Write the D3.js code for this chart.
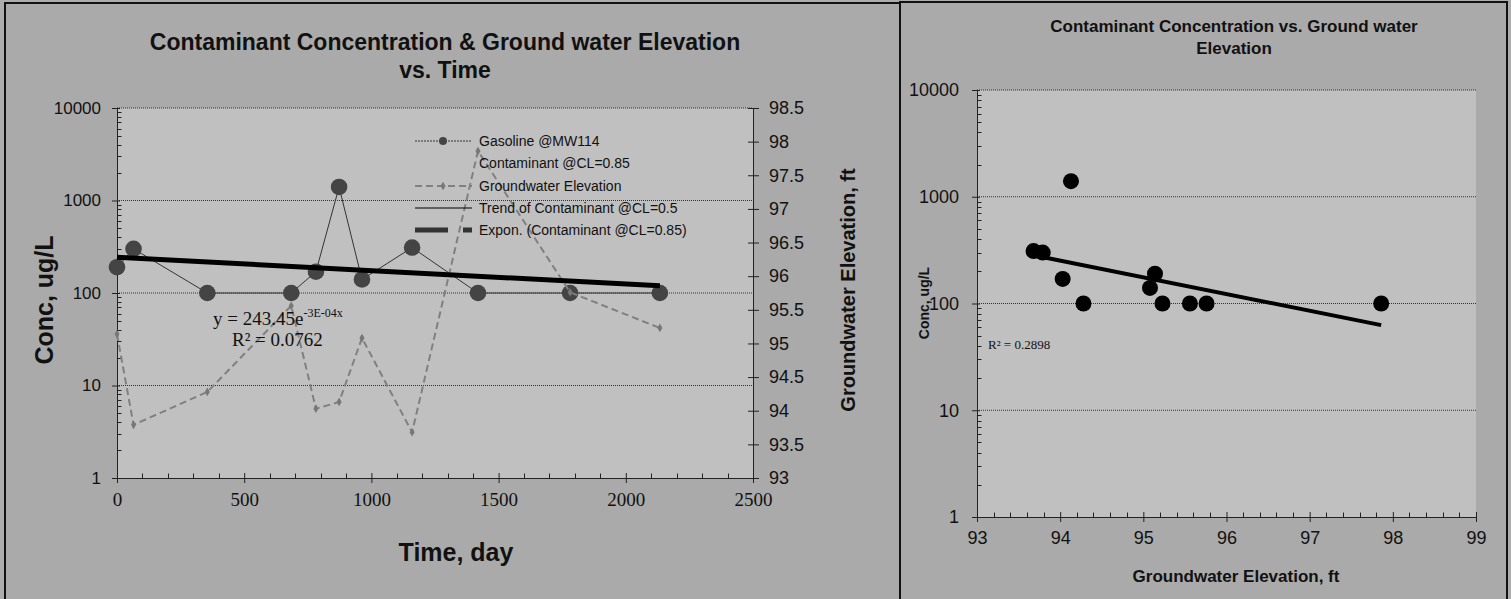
<!DOCTYPE html>
<html>
<head>
<meta charset="utf-8">
<script src="https://cdn.jsdelivr.net/npm/d3@7"></script>
<style>
  body { margin: 0; background: #adadad; }
  svg { display: block; }
  .sans { font-family: "Liberation Sans", Arial, sans-serif; }
  .serif { font-family: "Liberation Serif", "Times New Roman", serif; }
</style>
</head>
<body>
<svg id="chart" width="1511" height="599"></svg>
<script>
// monitoring data, MW114
var days = [0, 65, 355, 685, 782, 873, 963, 1160, 1419, 1781, 2134];
var conc = [190, 300, 100, 100, 170, 1400, 140, 310, 100, 100, 100];
var elev = [95.14, 93.79, 94.28, 95.56, 94.03, 94.13, 95.08, 93.68, 97.86, 95.76, 95.23];

var concTicks = [1, 10, 100, 1000, 10000];
var timeTicks = [0, 500, 1000, 1500, 2000, 2500];
var elevTicks = [93, 93.5, 94, 94.5, 95, 95.5, 96, 96.5, 97, 97.5, 98, 98.5];
var elevXTicks = [93, 94, 95, 96, 97, 98, 99];

var legendLabels = ['Gasoline @MW114', 'Contaminant @CL=0.85', 'Groundwater Elevation',
    'Trend of Contaminant @CL=0.5', 'Expon. (Contaminant @CL=0.85)'];

(function () {
    var svg = d3.select("#chart");

    // least squares fit of ln(y) on x, like excel's exponential trendline
    function expFit(xs, ys) {
        var ly = ys.map(function (v) { return Math.log(v); });
        var mx = d3.mean(xs), my = d3.mean(ly);
        var sxy = 0, sxx = 0;
        for (var i = 0; i < xs.length; i++) {
            sxy += (xs[i] - mx) * (ly[i] - my);
            sxx += (xs[i] - mx) * (xs[i] - mx);
        }
        var b = sxy / sxx;
        var a = my - b * mx;
        return function (x) { return Math.exp(a + b * x); };
    }

    function minorLog(lo, hi) {
        var out = [];
        for (var p = lo; p < hi; p *= 10) {
            for (var k = 2; k < 10; k++) out.push(p * k);
        }
        return out;
    }

    // small inside ticks, vertical axis at x0 or horizontal axis at y0
    function minorY(scale, vals, x0) {
        svg.append("g").selectAll("line").data(vals).enter().append("line")
            .attr("x1", x0).attr("x2", x0 + 4)
            .attr("y1", function (d) { return Math.round(scale(d)) + 0.5; })
            .attr("y2", function (d) { return Math.round(scale(d)) + 0.5; })
            .attr("stroke", "#222").attr("stroke-width", 1);
    }
    function minorX(scale, vals, y0) {
        svg.append("g").selectAll("line").data(vals).enter().append("line")
            .attr("y1", y0).attr("y2", y0 - 5)
            .attr("x1", function (d) { return Math.round(scale(d)) + 0.5; })
            .attr("x2", function (d) { return Math.round(scale(d)) + 0.5; })
            .attr("stroke", "#222").attr("stroke-width", 1);
    }

    // panels
    svg.append("rect").attr("x", 5).attr("y", 3).attr("width", 895).attr("height", 610)
        .attr("fill", "#aaaaaa").attr("stroke", "#111").attr("stroke-width", 2);
    svg.append("rect").attr("x", 900).attr("y", 2).attr("width", 607).attr("height", 610)
        .attr("fill", "#aaaaaa").attr("stroke", "#111").attr("stroke-width", 2);

    leftChart();
    rightChart();

    function leftChart() {
        var x = d3.scaleLinear().domain([0, 2500]).range([117, 753]);
        var y = d3.scaleLog().domain([1, 10000]).range([478, 108]);
        var y2 = d3.scaleLinear().domain([93, 98.5]).range([478, 108]);

        svg.append("rect").attr("x", 117).attr("y", 108).attr("width", 636).attr("height", 370)
            .attr("fill", "#c0c0c0");

        // gridlines
        svg.selectAll(".gridL").data(concTicks.slice(1)).enter().append("line")
            .attr("x1", 117).attr("x2", 753)
            .attr("y1", function (d) { return y(d); })
            .attr("y2", function (d) { return y(d); })
            .attr("stroke", "#333").attr("stroke-width", 1).attr("stroke-dasharray", "1,1");

        // left log axis
        var gy = svg.append("g").attr("class", "sans").attr("transform", "translate(117,0)")
            .call(d3.axisLeft(y).tickValues(concTicks).tickFormat(d3.format("d")).tickSize(5).tickPadding(11));
        gy.selectAll(".tick line").attr("x2", -5).attr("x1", 3);
        minorY(y, minorLog(1, 10000), 117.5);

        // bottom axis
        var gx = svg.append("g").attr("class", "serif").attr("transform", "translate(0,478)")
            .call(d3.axisBottom(x).tickValues(timeTicks).tickFormat(d3.format("d")).tickSize(5).tickPadding(10));
        gx.selectAll(".tick line").attr("y1", -5).attr("y2", 5);
        minorX(x, d3.range(100, 2500, 100).filter(function (d) { return d % 500; }), 478.5);

        // right axis
        var gy2 = svg.append("g").attr("class", "sans").attr("transform", "translate(753,0)")
            .call(d3.axisRight(y2).tickValues(elevTicks).tickFormat(d3.format("")).tickSize(6).tickPadding(10));
        gy2.selectAll(".tick line").attr("x1", -5).attr("x2", 6);

        [gy, gx, gy2].forEach(function (g) {
            g.selectAll("text").attr("fill", "#111");
            g.selectAll("line, path").attr("stroke", "#222");
        });
        gy.selectAll("text").attr("font-size", 17);
        gy2.selectAll("text").attr("font-size", 18);
        gx.selectAll("text").attr("font-size", 19);

        var pts = days.map(function (d, i) { return { t: d, c: conc[i], e: elev[i] }; });

        // gasoline series
        svg.append("path").datum(pts)
            .attr("d", d3.line().x(function (d) { return x(d.t); }).y(function (d) { return y(d.c); }))
            .attr("fill", "none").attr("stroke", "#333").attr("stroke-width", 1);
        svg.selectAll(".gas").data(pts).enter().append("circle")
            .attr("cx", function (d) { return x(d.t); })
            .attr("cy", function (d) { return y(d.c); })
            .attr("r", 8.3).attr("fill", "#444");

        // groundwater elevation
        svg.append("path").datum(pts)
            .attr("d", d3.line().x(function (d) { return x(d.t); }).y(function (d) { return y2(d.e); }))
            .attr("fill", "none").attr("stroke", "#808080").attr("stroke-width", 2)
            .attr("stroke-dasharray", "7,4");
        svg.selectAll(".gw").data(pts).enter().append("path")
            .attr("d", d3.symbol().type(d3.symbolDiamond).size(22))
            .attr("transform", function (d) { return "translate(" + x(d.t) + "," + y2(d.e) + ")"; })
            .attr("fill", "#777");

        // trend line
        var f = expFit(days, conc);
        var tx = d3.extent(days);
        svg.append("line")
            .attr("x1", x(tx[0])).attr("y1", y(f(tx[0])))
            .attr("x2", x(tx[1])).attr("y2", y(f(tx[1])))
            .attr("stroke", "#000").attr("stroke-width", 5);

        // equation
        var eq = svg.append("text").attr("class", "serif").attr("x", 213).attr("y", 325)
            .attr("font-size", 19).attr("fill", "#111");
        eq.append("tspan").text("y = 243.45e");
        eq.append("tspan").attr("dy", -8).attr("font-size", 12).text("-3E-04x");
        svg.append("text").attr("class", "serif").attr("x", 232).attr("y", 346)
            .attr("font-size", 19).attr("fill", "#111").text("R² = 0.0762");

        // legend
        var rows = [141, 163, 186, 208, 230];
        var lg = svg.append("g").attr("class", "sans");
        lg.selectAll("text").data(legendLabels).enter().append("text")
            .attr("x", 479).attr("y", function (d, i) { return rows[i]; })
            .attr("dy", "0.35em").attr("font-size", 14).attr("fill", "#111")
            .text(function (d) { return d; });
        lg.append("line").attr("x1", 415).attr("x2", 472).attr("y1", rows[0]).attr("y2", rows[0])
            .attr("stroke", "#333").attr("stroke-dasharray", "2,1");
        lg.append("circle").attr("cx", 443).attr("cy", rows[0]).attr("r", 4).attr("fill", "#444");
        lg.append("line").attr("x1", 415).attr("x2", 472).attr("y1", rows[2]).attr("y2", rows[2])
            .attr("stroke", "#808080").attr("stroke-width", 2).attr("stroke-dasharray", "7,4");
        lg.append("path").attr("d", d3.symbol().type(d3.symbolDiamond).size(22))
            .attr("transform", "translate(443," + rows[2] + ")").attr("fill", "#777");
        lg.append("line").attr("x1", 415).attr("x2", 472).attr("y1", rows[3]).attr("y2", rows[3])
            .attr("stroke", "#000").attr("stroke-width", 1);
        lg.append("line").attr("x1", 415).attr("x2", 472).attr("y1", rows[4]).attr("y2", rows[4])
            .attr("stroke", "#333").attr("stroke-width", 5).attr("stroke-dasharray", "33,15");

        // titles
        var t = svg.append("text").attr("class", "sans").attr("text-anchor", "middle")
            .attr("font-weight", "bold").attr("font-size", 23).attr("fill", "#111");
        t.append("tspan").attr("x", 445).attr("y", 50).text("Contaminant Concentration & Ground water Elevation");
        t.append("tspan").attr("x", 445).attr("y", 78).text("vs. Time");

        svg.append("text").attr("class", "sans").attr("text-anchor", "middle")
            .attr("font-weight", "bold").attr("font-size", 25).attr("fill", "#111")
            .attr("transform", "translate(53,300) rotate(-90)").text("Conc, ug/L");
        svg.append("text").attr("class", "sans").attr("text-anchor", "middle")
            .attr("font-weight", "bold").attr("font-size", 25).attr("fill", "#111")
            .attr("x", 456).attr("y", 561).text("Time, day");
        svg.append("text").attr("class", "sans").attr("text-anchor", "middle")
            .attr("font-weight", "bold").attr("font-size", 20).attr("fill", "#111")
            .attr("transform", "translate(855,290) rotate(-90)").text("Groundwater Elevation, ft");
    }

    function rightChart() {
        var x = d3.scaleLinear().domain([93, 99]).range([977, 1476]);
        var y = d3.scaleLog().domain([1, 10000]).range([517, 90]);

        svg.append("rect").attr("x", 977).attr("y", 90).attr("width", 499).attr("height", 427)
            .attr("fill", "#c0c0c0");

        svg.selectAll(".gridR").data(concTicks.slice(1)).enter().append("line")
            .attr("x1", 977).attr("x2", 1476)
            .attr("y1", function (d) { return y(d); })
            .attr("y2", function (d) { return y(d); })
            .attr("stroke", "#333").attr("stroke-width", 1).attr("stroke-dasharray", "1,1");

        var gy = svg.append("g").attr("class", "sans").attr("transform", "translate(977,0)")
            .call(d3.axisLeft(y).tickValues(concTicks).tickFormat(d3.format("d")).tickSize(5).tickPadding(13));
        gy.selectAll(".tick line").attr("x2", -5).attr("x1", 3);
        minorY(y, minorLog(1, 10000), 977.5);

        var gx = svg.append("g").attr("class", "sans").attr("transform", "translate(0,517)")
            .call(d3.axisBottom(x).tickValues(elevXTicks).tickFormat(d3.format("d")).tickSize(5).tickPadding(9));
        gx.selectAll(".tick line").attr("y1", -5).attr("y2", 5);
        minorX(x, d3.range(1, 30).filter(function (k) { return k % 5; }).map(function (k) { return 93 + k * 0.2; }), 517.5);

        [gy, gx].forEach(function (g) {
            g.selectAll("text").attr("fill", "#111").attr("font-size", 18);
            g.selectAll("line, path").attr("stroke", "#222");
        });

        // fitted trend
        var f = expFit(elev, conc);
        var ex = d3.extent(elev);
        svg.append("line")
            .attr("x1", x(ex[0])).attr("y1", y(f(ex[0])))
            .attr("x2", x(ex[1])).attr("y2", y(f(ex[1])))
            .attr("stroke", "#000").attr("stroke-width", 4);

        svg.selectAll(".sc").data(elev).enter().append("circle")
            .attr("cx", function (d) { return x(d); })
            .attr("cy", function (d, i) { return y(conc[i]); })
            .attr("r", 8).attr("fill", "#000");

        svg.append("text").attr("class", "serif").attr("x", 988).attr("y", 349)
            .attr("font-size", 13).attr("fill", "#111").text("R² = 0.2898");

        var t = svg.append("text").attr("class", "sans").attr("text-anchor", "middle")
            .attr("font-weight", "bold").attr("font-size", 17).attr("fill", "#111");
        t.append("tspan").attr("x", 1234).attr("y", 32).text("Contaminant Concentration vs. Ground water");
        t.append("tspan").attr("x", 1234).attr("y", 54).text("Elevation");

        svg.append("text").attr("class", "sans").attr("text-anchor", "middle")
            .attr("font-weight", "bold").attr("font-size", 14).attr("fill", "#111")
            .attr("transform", "translate(929,303) rotate(-90)").text("Conc, ug/L");
        svg.append("text").attr("class", "sans").attr("text-anchor", "middle")
            .attr("font-weight", "bold").attr("font-size", 17).attr("fill", "#111")
            .attr("x", 1236).attr("y", 582).text("Groundwater Elevation, ft");
    }
})();
</script>
</body>
</html>
